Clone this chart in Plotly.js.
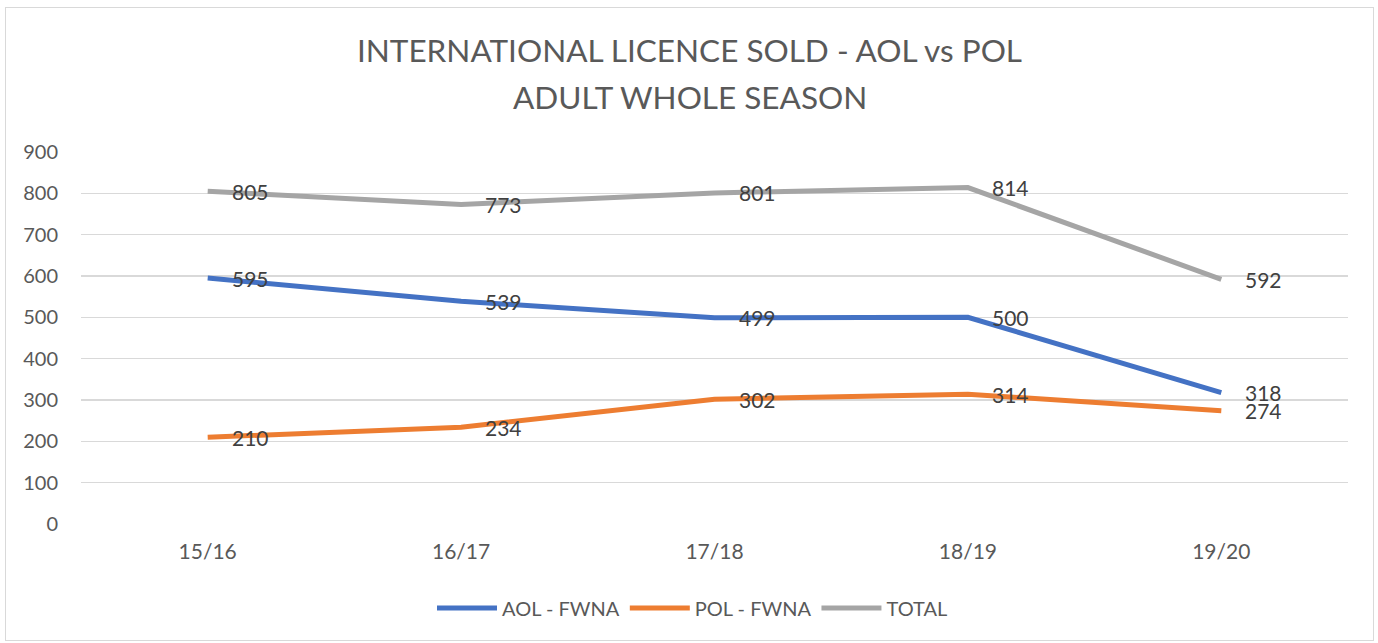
<!DOCTYPE html>
<html>
<head>
<meta charset="utf-8">
<script src="https://cdn.plot.ly/plotly-3.0.1.min.js"></script>
<style>
html,body{margin:0;padding:0;background:#fff;width:1378px;height:643px;overflow:hidden;}
#chart{position:absolute;left:5px;top:7px;width:1369px;height:634px;box-sizing:border-box;border:1px solid #d9d9d9;}
</style>
</head>
<body>
<div id="chart"></div>
<script>
var categories = ["15/16","16/17","17/18","18/19","19/20"];
var aolValues = [595, 539, 499, 500, 318];
var polValues = [210, 234, 302, 314, 274];
var totalValues = [805, 773, 801, 814, 592];
var seriesNames = ["AOL - FWNA", "POL - FWNA", "TOTAL"];
var seriesColors = ["#4472C4", "#ED7D31", "#A5A5A5"];
var yTicks = [0,100,200,300,400,500,600,700,800,900];
var titleLine1 = "INTERNATIONAL LICENCE SOLD - AOL vs POL";
var titleLine2 = "ADULT WHOLE SEASON";

var font = "Lato, 'Open Sans', sans-serif";
var allSeries = [aolValues, polValues, totalValues];
var traces = allSeries.map(function(vals, i){
  return {
    x: categories, y: vals, name: seriesNames[i], type: 'scatter', mode: 'lines',
    line: {color: seriesColors[i], width: 5}, hoverinfo: 'skip'
  };
});
var annotations = [];
allSeries.forEach(function(vals){
  vals.forEach(function(v, j){
    annotations.push({x: categories[j], y: v, xref: 'x', yref: 'y', text: String(v),
      showarrow: false, xanchor: 'left', yanchor: 'middle', xshift: 22,
      font: {family: font, size: 21, color: '#404040'}});
  });
});
annotations.push({text: titleLine2, xref: 'paper', yref: 'paper', x: 609/1267, y: 1 + 55/372,
  xanchor: 'center', yanchor: 'middle', showarrow: false,
  font: {family: font, size: 31.5, color: '#595959'}});
var layout = {
  width: 1367, height: 632,
  margin: {l: 75, r: 25, t: 144, b: 116},
  paper_bgcolor: '#fff', plot_bgcolor: '#fff',
  font: {family: font, color: '#595959'},
  title: {text: titleLine1,
    font: {family: font, size: 31.5, color: '#595959'}, x: 0.5, xanchor: 'center',
    y: 1 - 43/632, yanchor: 'middle', yref: 'container'},
  xaxis: {type: 'category', range: [-0.5, 4.5], showgrid: false, zeroline: false, showline: false,
    ticks: '', tickfont: {family: font, size: 21, color: '#595959'}, ticklabelstandoff: 13},
  yaxis: {range: [0, 900], tickvals: yTicks, showgrid: true, gridcolor: '#d9d9d9', gridwidth: 1.3,
    zeroline: false, showline: false, ticks: '',
    tickfont: {family: font, size: 20, color: '#595959'}, ticklabelstandoff: 22},
  showlegend: true,
  legend: {orientation: 'h', x: 0.5 - 22/1267, xanchor: 'center', y: -84/372, yanchor: 'middle',
    font: {family: font, size: 20, color: '#595959'}, itemwidth: 60, traceorder: 'normal'},
  annotations: annotations
};
Plotly.newPlot('chart', traces, layout, {displayModeBar: false, staticPlot: true});
</script>
</body>
</html>
